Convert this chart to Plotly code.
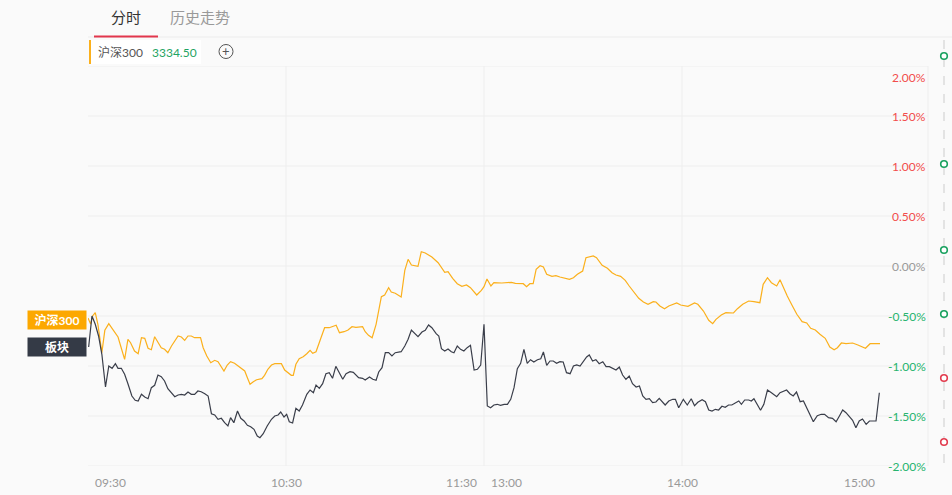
import plotly.graph_objects as go

# ---------------- data ----------------
# minutes since 09:30 (lunch break collapsed: 120 = 11:30 / 13:00, 240 = 15:00)
hs300_x = [0, 0.8, 1.4, 2.2, 3.0, 4.2, 5.1, 6.3, 7.5, 9.1, 9.9, 11.1, 12.1, 12.9, 14.1, 15.2, 16.2, 17.2,
           18.2, 19.2, 20.2, 21.2, 22.2, 23.2, 24.2, 25.3, 26.3, 27.3, 28.3, 29.3, 30.3, 31.3, 32.3, 34.1,
           34.9, 36.0, 37.2, 38.4, 39.4, 40.2, 41.2, 42.2, 43.2, 44.4, 45.5, 46.5, 47.5, 48.3, 49.1, 50.1,
           51.1, 52.7, 53.5, 54.5, 55.6, 56.6, 58.6, 59.6, 60.8, 61.6, 62.2, 63.0, 64.0, 65.2, 66.3, 67.3,
           68.1, 69.1, 70.5, 71.7, 73.1, 75.2, 76.2, 77.6, 78.8, 80.0, 81.2, 83.2, 84.0, 85.0, 86.1, 87.3,
           88.9, 89.9, 91.1, 91.9, 93.1, 94.9, 96.0, 97.0, 98.0, 100.0, 101.0, 102.2, 104.2, 106.1, 108.1,
           109.1, 110.5, 111.9, 113.3, 114.7, 115.9, 117.8, 119.2, 120.0, 120.9, 122.1, 123.0, 125.4, 128.3,
           129.5, 131.9, 132.9, 133.9, 134.9, 135.8, 137.0, 138.0, 139.0, 140.6, 141.8, 143.0, 144.6, 145.9,
           147.1, 148.3, 149.9, 150.9, 153.1, 154.1, 155.8, 157.4, 158.8, 160.0, 161.4, 162.8, 164.0, 165.5,
           166.9, 168.3, 169.7, 171.3, 172.1, 173.3, 174.7, 176.0, 177.4, 178.4, 179.6, 181.8, 183.8, 184.8,
           186.5, 188.1, 189.3, 190.3, 191.9, 193.3, 195.6, 196.8, 198.4, 200.2, 201.8, 203.6, 204.6, 205.9,
           207.1, 208.7, 209.7, 210.7, 211.9, 213.3, 214.8, 216.4, 217.8, 219.0, 220.4, 221.8, 223.4, 224.8,
           226.1, 227.1, 228.3, 229.7, 231.7, 233.3, 235.6, 237.0, 240.0]
hs300_y = [-0.52, -0.58, -0.50, -0.467, -0.583, -0.867, -0.643, -0.577, -0.633, -0.71, -0.80, -0.933, -0.733,
           -0.767, -0.85, -0.877, -0.717, -0.723, -0.823, -0.837, -0.707, -0.767, -0.817, -0.833, -0.867, -0.80,
           -0.75, -0.70, -0.71, -0.743, -0.70, -0.70, -0.717, -0.717, -0.817, -0.90, -0.967, -0.943, -0.957,
           -1.00, -1.05, -0.99, -0.957, -0.973, -1.00, -1.017, -1.05, -1.117, -1.183, -1.157, -1.137, -1.127,
           -1.093, -1.033, -0.99, -0.977, -0.977, -1.04, -1.067, -1.093, -1.093, -0.983, -0.927, -0.907, -0.877,
           -0.843, -0.873, -0.857, -0.727, -0.617, -0.617, -0.593, -0.667, -0.657, -0.64, -0.607, -0.613, -0.607,
           -0.657, -0.693, -0.717, -0.583, -0.307, -0.29, -0.217, -0.26, -0.273, -0.31, -0.043, 0.067, 0.01,
           -0.003, 0.143, 0.13, 0.09, 0.033, -0.063, -0.057, -0.123, -0.177, -0.203, -0.19, -0.217, -0.29, -0.243,
           -0.207, -0.13, -0.20, -0.167, -0.17, -0.163, -0.173, -0.177, -0.207, -0.177, -0.177, -0.033, 0.003,
           -0.01, -0.083, -0.103, -0.097, -0.11, -0.127, -0.133, -0.117, -0.083, -0.05, 0.083, 0.10, 0.083, 0.007,
           -0.023, -0.067, -0.09, -0.103, -0.143, -0.20, -0.267, -0.323, -0.36, -0.383, -0.357, -0.36, -0.40,
           -0.427, -0.40, -0.383, -0.37, -0.39, -0.403, -0.37, -0.383, -0.45, -0.543, -0.577, -0.533, -0.49,
           -0.467, -0.47, -0.427, -0.383, -0.35, -0.357, -0.367, -0.183, -0.117, -0.167, -0.20, -0.137, -0.217,
           -0.30, -0.39, -0.483, -0.557, -0.57, -0.623, -0.64, -0.683, -0.723, -0.81, -0.837, -0.817, -0.77,
           -0.777, -0.77, -0.79, -0.823, -0.777, -0.777]

sector_x = [0.2, 1.2, 2.2, 3.2, 4.2, 5.3, 6.3, 7.3, 8.3, 9.1, 10.1, 11.1, 12.1, 13.3, 14.3, 15.2, 16.2, 17.2,
            18.2, 19.2, 20.2, 21.2, 22.2, 23.2, 24.2, 25.3, 26.3, 27.3, 28.3, 29.3, 30.3, 31.3, 32.3, 33.3,
            34.3, 35.4, 36.4, 37.4, 38.4, 39.4, 40.4, 41.4, 42.4, 43.2, 44.2, 45.3, 46.3, 47.3, 48.3, 49.3,
            50.3, 51.3, 52.1, 53.1, 54.3, 55.6, 56.6, 57.6, 58.4, 59.4, 60.2, 61.0, 62.0, 63.0, 64.0, 65.0,
            66.3, 67.3, 68.3, 69.1, 70.1, 71.1, 72.1, 73.1, 74.1, 75.1, 76.2, 77.2, 78.2, 79.4, 80.4, 82.0,
            83.2, 84.0, 85.3, 86.3, 87.3, 88.1, 89.1, 90.1, 91.1, 92.1, 93.1, 94.9, 96.0, 97.0, 98.0, 99.2,
            100.0, 101.2, 102.2, 103.2, 104.2, 105.5, 106.3, 107.1, 108.1, 109.1, 110.1, 110.9, 111.9, 112.9,
            113.9, 114.9, 115.9, 117.0, 118.0, 119.0, 120.0, 121.0, 122.0, 123.0, 124.0, 125.0, 126.1, 127.1,
            128.1, 129.1, 130.1, 131.1, 132.1, 133.1, 134.1, 135.1, 136.2, 137.2, 138.0, 139.0, 140.0, 141.0,
            142.0, 143.0, 144.0, 145.0, 146.1, 147.1, 148.1, 149.1, 150.1, 151.1, 151.9, 152.9, 153.9, 154.9,
            156.0, 157.0, 158.0, 159.0, 160.0, 161.0, 162.0, 163.0, 164.0, 165.0, 166.1, 167.1, 168.1, 169.1,
            170.1, 171.1, 172.1, 173.1, 174.1, 174.9, 176.0, 177.2, 178.0, 179.0, 180.4, 181.6, 182.8, 183.8,
            184.8, 186.1, 187.1, 188.1, 189.1, 190.1, 191.1, 192.1, 193.1, 194.1, 195.1, 196.1, 197.2, 198.0,
            199.0, 200.2, 201.0, 201.8, 202.8, 203.8, 204.8, 205.9, 207.1, 208.7, 209.7, 210.7, 211.7, 212.7,
            213.7, 214.7, 215.8, 216.8, 217.8, 218.8, 219.8, 221.0, 222.2, 223.2, 224.4, 225.6, 226.7, 227.7,
            228.7, 229.7, 230.7, 231.7, 232.7, 233.7, 234.7, 235.8, 236.8, 237.8, 238.8, 239.8]
sector_y = [-0.81, -0.50, -0.583, -0.70, -0.883, -1.21, -1.00, -1.023, -0.977, -1.023, -1.023, -1.083, -1.177,
            -1.30, -1.343, -1.35, -1.283, -1.31, -1.327, -1.217, -1.193, -1.09, -1.107, -1.15, -1.227, -1.267,
            -1.307, -1.29, -1.283, -1.29, -1.26, -1.283, -1.283, -1.25, -1.257, -1.277, -1.30, -1.477, -1.49,
            -1.533, -1.523, -1.567, -1.60, -1.517, -1.567, -1.45, -1.523, -1.55, -1.593, -1.607, -1.633, -1.70,
            -1.717, -1.677, -1.60, -1.533, -1.50, -1.49, -1.46, -1.51, -1.483, -1.557, -1.57, -1.423, -1.45,
            -1.39, -1.283, -1.24, -1.267, -1.19, -1.223, -1.177, -1.077, -1.067, -1.123, -1.003, -1.077, -1.133,
            -1.077, -1.057, -1.063, -1.117, -1.123, -1.14, -1.11, -1.133, -1.143, -1.06, -1.017, -0.867, -0.867,
            -0.90, -0.867, -0.857, -0.80, -0.733, -0.64, -0.677, -0.707, -0.66, -0.643, -0.59, -0.617, -0.677,
            -0.70, -0.827, -0.85, -0.83, -0.857, -0.867, -0.80, -0.833, -0.85, -0.817, -0.793, -1.04, -1.033,
            -0.99, -0.583, -1.40, -1.417, -1.39, -1.383, -1.393, -1.383, -1.383, -1.333, -1.217, -1.027, -0.973,
            -0.833, -0.973, -0.937, -0.96, -0.937, -0.927, -0.86, -0.993, -0.95, -0.95, -0.973, -0.957, -0.96,
            -1.067, -1.077, -1.00, -0.99, -1.00, -0.95, -0.91, -0.89, -0.95, -0.937, -0.977, -0.957, -1.007,
            -1.007, -1.023, -1.04, -1.01, -1.09, -1.133, -1.10, -1.177, -1.21, -1.20, -1.30, -1.333, -1.327,
            -1.367, -1.36, -1.323, -1.357, -1.39, -1.35, -1.333, -1.333, -1.417, -1.333, -1.39, -1.327, -1.397,
            -1.363, -1.337, -1.357, -1.44, -1.45, -1.433, -1.44, -1.403, -1.413, -1.39, -1.39, -1.37, -1.35,
            -1.383, -1.34, -1.34, -1.35, -1.327, -1.383, -1.443, -1.383, -1.24, -1.267, -1.307, -1.267, -1.25,
            -1.24, -1.277, -1.30, -1.26, -1.357, -1.35, -1.417, -1.49, -1.557, -1.497, -1.483, -1.483, -1.517,
            -1.523, -1.557, -1.50, -1.44, -1.467, -1.50, -1.543, -1.617, -1.55, -1.53, -1.583, -1.55, -1.55,
            -1.55, -1.267]

y_tick_vals = [2.0, 1.5, 1.0, 0.5, 0.0, -0.5, -1.0, -1.5, -2.0]
x_tick_vals = [0, 60, 120, 120, 180, 240]
x_tick_text = ["09:30", "10:30", "11:30", "13:00", "14:00", "15:00"]

tabs = ["分时", "历史走势"]
index_name = "沪深300"
index_value = "3334.50"
sector_name = "板块"
event_colors = ["#19a15f", "#19a15f", "#19a15f", "#19a15f", "#e23b4e", "#e23b4e"]

# ---------------- geometry ----------------
W, H = 952, 495
L, R, T, B = 88, 928, 66, 466
X_MAX = (R - L) / 3.3

ORANGE = "#fbb01c"
DARK = "#3a3e4a"
RED = "#f24c4c"
GREEN = "#27b46e"
GREY_TXT = "#999999"
GRID = "#eeeeee"
FONT = "Lato, 'Noto Sans CJK SC', sans-serif"


def px(xp):
    return (xp - L) / (R - L)


def py(yp):
    return (B - yp) / (B - T)


fig = go.Figure()
fig.add_trace(go.Scatter(x=hs300_x, y=hs300_y, mode="lines", name=index_name,
                         line=dict(color=ORANGE, width=1.2), hoverinfo="skip"))
fig.add_trace(go.Scatter(x=sector_x, y=sector_y, mode="lines", name=sector_name,
                         line=dict(color=DARK, width=1.2), hoverinfo="skip"))

shapes = []
for v in y_tick_vals:
    shapes.append(dict(type="line", xref="paper", yref="y", x0=0, x1=1, y0=v, y1=v,
                       line=dict(color=GRID, width=1), layer="below"))
for v in [60, 120, 180]:
    shapes.append(dict(type="line", xref="x", yref="paper", x0=v, x1=v, y0=0, y1=1,
                       line=dict(color=GRID, width=1), layer="below"))
shapes.append(dict(type="line", xref="paper", yref="paper", x0=1, x1=1, y0=0, y1=1,
                   line=dict(color=GRID, width=1), layer="below"))
shapes.append(dict(type="line", xref="paper", yref="paper", x0=px(88), x1=px(952), y0=py(37), y1=py(37),
                   line=dict(color="#ececec", width=1)))
shapes.append(dict(type="rect", xref="paper", yref="paper", x0=px(94), x1=px(158), y0=py(37.5), y1=py(35.5),
                   fillcolor="#e2364c", line=dict(width=0)))
shapes.append(dict(type="rect", xref="paper", yref="paper", x0=px(89), x1=px(201), y0=py(64), y1=py(40),
                   fillcolor="#ffffff", line=dict(width=0)))
shapes.append(dict(type="rect", xref="paper", yref="paper", x0=px(89), x1=px(91), y0=py(64), y1=py(40),
                   fillcolor=ORANGE, line=dict(width=0)))
shapes.append(dict(type="circle", xref="paper", yref="paper", x0=px(226 - 7), x1=px(226 + 7),
                   y0=py(51.5 + 7), y1=py(51.5 - 7), line=dict(color="#555555", width=1)))
shapes.append(dict(type="line", xref="paper", yref="paper", x0=px(944), x1=px(944), y0=py(40), y1=py(470),
                   line=dict(color="#cccccc", width=1, dash="dash")))
ev_y = [56, 164, 250, 314, 378, 442]
for yy, c in zip(ev_y, event_colors):
    shapes.append(dict(type="circle", xref="paper", yref="paper", x0=px(944 - 3.3), x1=px(944 + 3.3),
                       y0=py(yy + 3.3), y1=py(yy - 3.3), fillcolor="#ffffff", line=dict(color=c, width=1.6)))

annotations = []
annotations.append(dict(text=tabs[0], xref="paper", yref="paper", x=px(126), y=py(17), showarrow=False,
                        font=dict(family=FONT, size=15, color="#333333"), xanchor="center", yanchor="middle"))
annotations.append(dict(text=tabs[1], xref="paper", yref="paper", x=px(200), y=py(17), showarrow=False,
                        font=dict(family=FONT, size=15, color="#999999"), xanchor="center", yanchor="middle"))
annotations.append(dict(text=index_name, xref="paper", yref="paper", x=px(96), y=py(52), showarrow=False,
                        font=dict(family=FONT, size=12, color="#555555"), xanchor="left", yanchor="middle"))
annotations.append(dict(text=index_value, xref="paper", yref="paper", x=px(150), y=py(52), showarrow=False,
                        font=dict(family=FONT, size=12, color="#1fa463"), xanchor="left", yanchor="middle"))
annotations.append(dict(text="+", xref="paper", yref="paper", x=px(226), y=py(51), showarrow=False,
                        font=dict(family=FONT, size=13, color="#555555"), xanchor="center", yanchor="middle"))

for v in y_tick_vals:
    col = RED if v > 0 else (GREEN if v < 0 else GREY_TXT)
    annotations.append(dict(text=f"{v:.2f}%", xref="paper", yref="y", x=1, y=v, showarrow=False,
                            xanchor="right", yanchor="middle", yshift=-11 if v == max(y_tick_vals) else 0,
                            font=dict(family=FONT, size=12, color=col)))

anchors = ["left", "center", "right", "left", "center", "right"]
shifts = [5, 0, -5, 5, 0, -3]
for v, t, a, s in zip(x_tick_vals, x_tick_text, anchors, shifts):
    annotations.append(dict(text=t, xref="x", yref="paper", x=v, y=py(482), showarrow=False,
                            xanchor=a, yanchor="middle", xshift=s,
                            font=dict(family=FONT, size=12, color=GREY_TXT)))

annotations.append(dict(text=f"<b>{index_name}</b>", xref="paper", yref="y", x=px(87), y=hs300_y[0] - 0.02,
                        showarrow=False, xanchor="right", yanchor="middle", bgcolor="#fca800",
                        width=56, height=16, borderpad=1, font=dict(family=FONT, size=12, color="#ffffff")))
annotations.append(dict(text=f"<b>{sector_name}</b>", xref="paper", yref="y", x=px(87), y=sector_y[0],
                        showarrow=False, xanchor="right", yanchor="middle", bgcolor="#343a46",
                        width=56, height=16, borderpad=1, font=dict(family=FONT, size=12, color="#ffffff")))

fig.update_layout(
    width=W, height=H,
    margin=dict(l=L, r=W - R, t=T, b=H - B),
    paper_bgcolor="#fafafa", plot_bgcolor="#fafafa",
    showlegend=False,
    xaxis=dict(range=[0, X_MAX], showgrid=False, zeroline=False, showticklabels=False, showline=False,
               fixedrange=True),
    yaxis=dict(range=[-2, 2], showgrid=False, zeroline=False, showticklabels=False, showline=False,
               fixedrange=True),
    shapes=shapes,
    annotations=annotations,
    font=dict(family=FONT),
)

fig.write_html("out.html", config={"displayModeBar": False},
               post_script="document.body.style.margin='0px';document.body.style.overflow='hidden';"
                           "document.body.style.background='#fafafa';")
